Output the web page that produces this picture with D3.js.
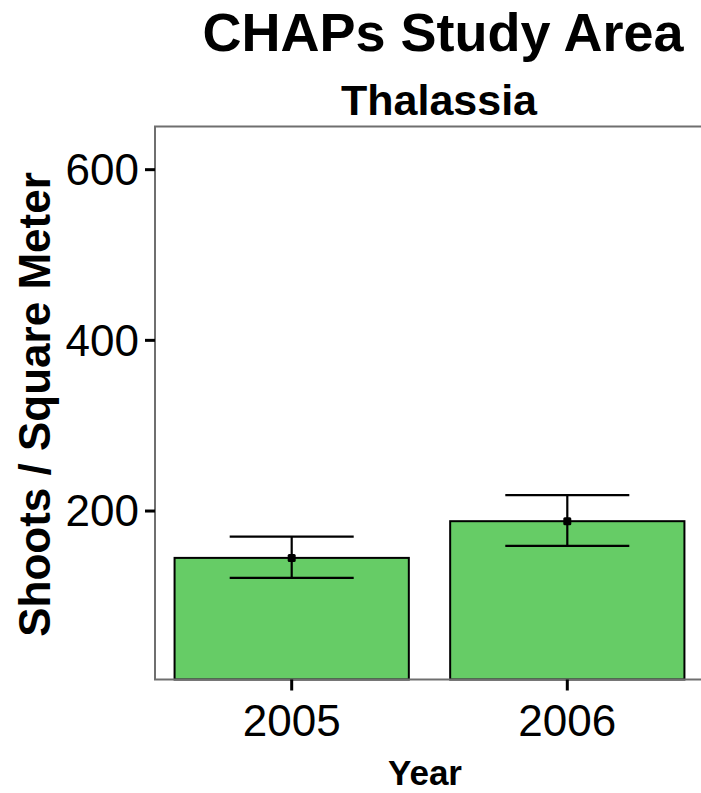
<!DOCTYPE html>
<html>
<head>
<meta charset="utf-8">
<script src="https://cdn.jsdelivr.net/npm/d3@7"></script>
<style>
  html, body { margin: 0; padding: 0; background: #ffffff; overflow: hidden; }
  svg { display: block; }
  text { font-family: "Liberation Sans", Arial, Helvetica, sans-serif; fill: #000; }
</style>
</head>
<body>
<div id="chart"></div>
<script>
// Thalassia shoot density by year, mean with error bar range
const years = ["2005", "2006"];
const meanShoots = [144.5, 187.5];
const errLow = [121, 158.5];
const errHigh = [169.5, 218];
const yTicks = [200, 400, 600];

const W = 701, H = 793;
const panel = { left: 155, right: 704, top: 126.5, bottom: 679.5 };

const svg = d3.select("#chart").append("svg")
  .attr("width", W).attr("height", H);

const x = d3.scaleBand()
  .domain(years)
  .range([panel.left, panel.right])
  .paddingInner(0.15)
  .paddingOuter(0.071);

const y = d3.scaleLinear()
  .domain([2, 650])
  .range([panel.bottom, panel.top]);

const data = years.map((yr, i) => ({
  year: yr, mean: meanShoots[i], lo: errLow[i], hi: errHigh[i]
}));

// Bars
svg.append("g").selectAll("rect")
  .data(data)
  .join("rect")
  .attr("x", d => x(d.year))
  .attr("width", x.bandwidth())
  .attr("y", d => y(d.mean))
  .attr("height", d => y(y.domain()[0]) - y(d.mean))
  .attr("fill", "#66cc66")
  .attr("stroke", "#000")
  .attr("stroke-width", 2);

// Error bars
const capW = x.step() * 0.45;
const eb = svg.append("g").attr("stroke", "#000").attr("stroke-width", 2.2).attr("fill", "none");
data.forEach(d => {
  const cx = x(d.year) + x.bandwidth() / 2;
  eb.append("line").attr("x1", cx).attr("x2", cx).attr("y1", y(d.hi)).attr("y2", y(d.lo));
  eb.append("line").attr("x1", cx - capW / 2).attr("x2", cx + capW / 2).attr("y1", y(d.hi)).attr("y2", y(d.hi));
  eb.append("line").attr("x1", cx - capW / 2).attr("x2", cx + capW / 2).attr("y1", y(d.lo)).attr("y2", y(d.lo));
});

// Mean points
const ptSize = 8;
svg.append("g").selectAll("rect")
  .data(data)
  .join("rect")
  .attr("x", d => x(d.year) + x.bandwidth() / 2 - ptSize / 2)
  .attr("y", d => y(d.mean) - ptSize / 2)
  .attr("width", ptSize).attr("height", ptSize)
  .attr("rx", 1.5)
  .attr("fill", "#000");

// Panel border
svg.append("rect")
  .attr("x", panel.left).attr("y", panel.top)
  .attr("width", panel.right - panel.left)
  .attr("height", panel.bottom - panel.top)
  .attr("fill", "none")
  .attr("stroke", "#6f6f6f")
  .attr("stroke-width", 2);

// Y axis
const yAxis = svg.append("g")
  .attr("transform", `translate(${panel.left},0)`)
  .call(d3.axisLeft(y).tickValues(yTicks).tickSize(10).tickPadding(6).tickFormat(d3.format("d")));
yAxis.select(".domain").remove();
yAxis.selectAll(".tick line").attr("stroke", "#000").attr("stroke-width", 3);
yAxis.selectAll(".tick text")
  .attr("font-size", 44)
  .attr("font-family", "Liberation Sans, Arial, sans-serif")
  .attr("fill", "#000")
  .attr("dy", "0.35em");

// X axis
const xAxis = svg.append("g")
  .attr("transform", `translate(0,${panel.bottom})`)
  .call(d3.axisBottom(x).tickSize(11).tickPadding(14));
xAxis.select(".domain").remove();
xAxis.selectAll(".tick line").attr("stroke", "#000").attr("stroke-width", 3);
xAxis.selectAll(".tick text")
  .attr("font-size", 44)
  .attr("font-family", "Liberation Sans, Arial, sans-serif")
  .attr("fill", "#000")
  .attr("dy", "0.71em");

// Titles
svg.append("text")
  .attr("x", 443).attr("y", 51)
  .attr("text-anchor", "middle")
  .attr("font-size", 54).attr("font-weight", "bold")
  .text("CHAPs Study Area");

svg.append("text")
  .attr("x", 439).attr("y", 115)
  .attr("text-anchor", "middle")
  .attr("font-size", 43).attr("font-weight", "bold")
  .text("Thalassia");

svg.append("text")
  .attr("x", 425).attr("y", 785)
  .attr("text-anchor", "middle")
  .attr("font-size", 35).attr("font-weight", "bold")
  .text("Year");

svg.append("text")
  .attr("transform", "translate(50,404.5) rotate(-90)")
  .attr("text-anchor", "middle")
  .attr("font-size", 44).attr("font-weight", "bold")
  .text("Shoots / Square Meter");
</script>
</body>
</html>
